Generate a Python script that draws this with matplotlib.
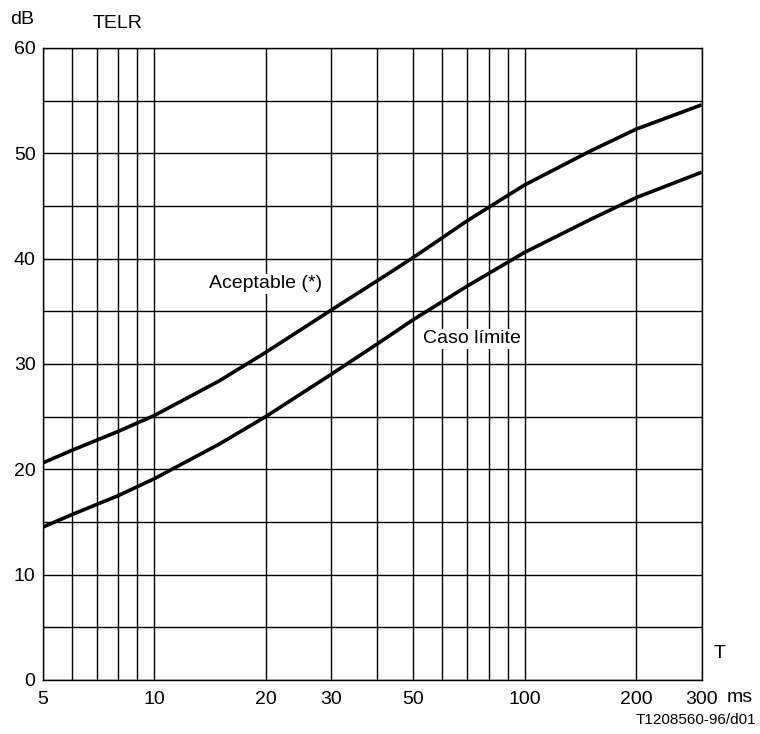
import numpy as np
import matplotlib
matplotlib.use('Agg')
import matplotlib.pyplot as plt
plt.rcParams['font.family'] = ['Liberation Sans', 'DejaVu Sans']

# curve values (T in ms, TELR in dB)
t_acept = [5, 6, 8, 10, 15, 20, 30, 40, 50, 70, 100, 150, 200, 300]
telr_acept = [20.6, 21.8, 23.6, 25.1, 28.4, 31.1, 35.1, 37.9, 40.1, 43.6, 47.0, 50.2, 52.3, 54.6]
t_limite = [5, 6, 8, 10, 15, 20, 30, 40, 50, 70, 100, 150, 200, 300]
telr_limite = [14.5, 15.7, 17.5, 19.1, 22.4, 25.0, 29.0, 31.9, 34.2, 37.4, 40.6, 43.7, 45.8, 48.2]

x_grid = [5, 6, 7, 8, 9, 10, 20, 30, 40, 50, 60, 70, 80, 90, 100, 200, 300]
x_ticks = [5, 10, 20, 30, 50, 100, 200, 300]
y_grid = list(range(0, 61, 5))
y_ticks = list(range(0, 61, 10))

fs = 14

fig = plt.figure(figsize=(7.6, 7.34), dpi=100)
ax = fig.add_axes([42.5 / 760, 54 / 734, 659 / 760, 632 / 734])
ax.set_xscale('log')
ax.set_xlim(5, 300)
ax.set_ylim(0, 60)

for xv in x_grid:
    ax.axvline(xv, color='black', lw=1.0, zorder=1)
for yv in y_grid:
    ax.axhline(yv, color='black', lw=1.0, zorder=1)

ax.plot(t_acept, telr_acept, color='black', lw=2.6, zorder=3, solid_capstyle='butt')
ax.plot(t_limite, telr_limite, color='black', lw=2.6, zorder=3, solid_capstyle='butt')

ax.set_xticks(x_ticks)
ax.set_xticklabels([str(v) for v in x_ticks])
ax.xaxis.set_minor_locator(matplotlib.ticker.NullLocator())
ax.set_yticks(y_ticks)
ax.tick_params(length=0, labelsize=fs)
ax.tick_params(axis='y', pad=5)
ax.tick_params(axis='x', pad=8)
for s in ax.spines.values():
    s.set_linewidth(1.0)

box = dict(facecolor='white', edgecolor='none', pad=1)
ax.text(20.0, 37.6, 'Aceptable (*)', fontsize=fs, ha='center', va='center', bbox=box, zorder=4)
ax.text(72, 32.4, 'Caso límite', fontsize=fs, ha='center', va='center', bbox=box, zorder=4)

fig.text(10 / 760, 1 - 20 / 734, 'dB', fontsize=fs, ha='left', va='center')
fig.text(93 / 760, 1 - 24 / 734, 'TELR', fontsize=fs, ha='left', va='center')
fig.text(714 / 760, 1 - 654 / 734, 'T', fontsize=fs, ha='left', va='center')
fig.text(727 / 760, 1 - 698 / 734, 'ms', fontsize=fs, ha='left', va='center')
fig.text(756 / 760, 1 - 720 / 734, 'T1208560-96/d01', fontsize=11, ha='right', va='center')

fig.savefig('out.png', dpi=100)
